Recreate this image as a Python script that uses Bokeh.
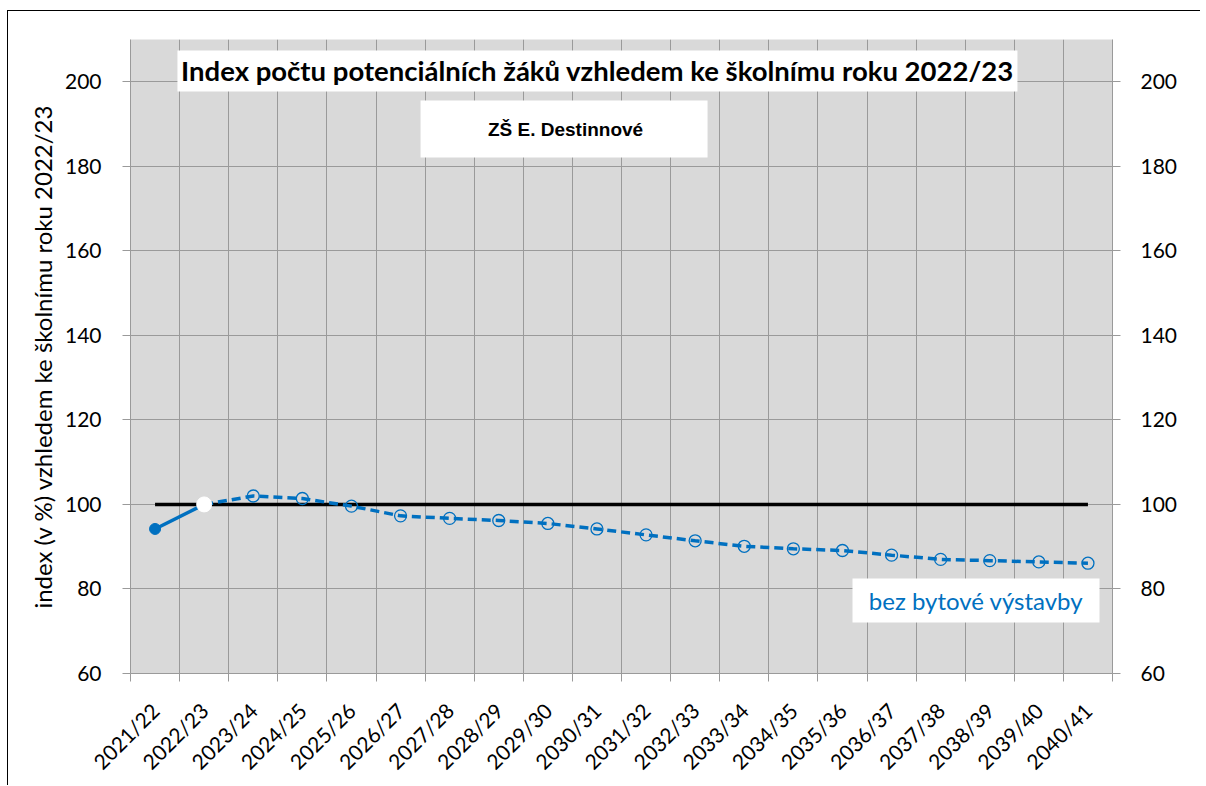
from math import pi
from bokeh.plotting import figure
from bokeh.models import FixedTicker, LinearAxis, Range1d
from bokeh.core.properties import value
from bokeh.embed import file_html
from bokeh.resources import INLINE

categories = ["2021/22", "2022/23", "2023/24", "2024/25", "2025/26", "2026/27", "2027/28",
              "2028/29", "2029/30", "2030/31", "2031/32", "2032/33", "2033/34", "2034/35",
              "2035/36", "2036/37", "2037/38", "2038/39", "2039/40", "2040/41"]
index_values = [94.2, 100.0, 102.0, 101.4, 99.6, 97.3, 96.7, 96.2, 95.5, 94.2,
                92.8, 91.4, 90.1, 89.5, 89.1, 88.0, 87.0, 86.7, 86.4, 86.1]
reference_values = [100, 100, 100, 100, 100, 100, 100, 100, 100, 100,
                     100, 100, 100, 100, 100, 100, 100, 100, 100, 100]
y_ticks = [60, 80, 100, 120, 140, 160, 180, 200]

title_text = "Index počtu potenciálních žáků vzhledem ke školnímu roku 2022/23"
subtitle_text = "ZŠ E. Destinnové"
series_label = "bez bytové výstavby"
y_label = "index (v %) vzhledem ke školnímu roku 2022/23"

BLUE = "#0070C0"
GRID = "#9a9a9a"
FONT = "Lato"

n = len(categories)
xc = [i + 0.5 for i in range(n)]
bounds = list(range(n + 1))

p = figure(frame_width=982, frame_height=634,
           x_range=Range1d(0, n), y_range=Range1d(60, 210),
           output_backend="svg", toolbar_location=None,
           min_border_left=122, min_border_right=88, min_border_top=28, min_border_bottom=110,
           background_fill_color="#d9d9d9", border_fill_color="white",
           outline_line_color=None)
p.styles = {"border-left": "1px solid black", "border-top": "1px solid black",
            "margin-left": "7px", "margin-top": "10px"}

# x axis
xa = p.xaxis[0]
xa.ticker = FixedTicker(ticks=xc, minor_ticks=bounds)
xa.major_label_overrides = {x: c for x, c in zip(xc, categories)}
xa.major_tick_line_color = None
xa.major_tick_out = 8
xa.major_tick_in = 0
xa.minor_tick_line_color = GRID
xa.minor_tick_out = 8
xa.minor_tick_in = 0
xa.axis_line_color = GRID
xa.major_label_orientation = pi / 4
xa.major_label_text_font = FONT
xa.major_label_text_font_size = "21px"
xa.major_label_text_color = "black"
xa.major_label_standoff = 25

# y axes
def style_y(ax, standoff):
    ax.ticker = FixedTicker(ticks=y_ticks)
    ax.minor_tick_line_color = None
    ax.major_tick_line_color = GRID
    ax.major_tick_out = 8
    ax.major_tick_in = 0
    ax.axis_line_color = GRID
    ax.major_label_text_font = FONT
    ax.major_label_text_font_size = "21px"
    ax.major_label_text_color = "black"
    ax.major_label_standoff = standoff

ya = p.yaxis[0]
style_y(ya, 21)
ya.axis_label = y_label
ya.axis_label_text_font = FONT
ya.axis_label_text_font_size = "24px"
ya.axis_label_text_font_style = "normal"
ya.axis_label_text_color = "black"
ya.axis_label_standoff = 5

yr = LinearAxis()
style_y(yr, 20)
p.add_layout(yr, "right")

p.xgrid.ticker = FixedTicker(ticks=bounds)
p.ygrid.ticker = FixedTicker(ticks=y_ticks)
for g in (p.xgrid[0], p.ygrid[0]):
    g.grid_line_color = GRID
    g.grid_line_width = 1

# reference line at 100
p.line(xc, reference_values, line_color="black", line_width=3.5)

# projection (dashed) from 2022/23 on
p.line(xc[1:], index_values[1:], line_color=BLUE, line_width=3.5, line_dash="9 5")
p.scatter(xc[2:], index_values[2:], size=12, marker="circle",
          fill_color=None, line_color=BLUE, line_width=1.3)

# actual (solid)
p.line(xc[:2], index_values[:2], line_color=BLUE, line_width=3.5)
p.scatter(xc[:1], index_values[:1], size=11, marker="circle",
          fill_color=BLUE, line_color=BLUE)
p.scatter(xc[1:2], index_values[1:2], size=15, marker="circle",
          fill_color="white", line_color="white")

# title boxes
p.rect(x=[9.51], y=[202.55], width=840, height=41, width_units="screen", height_units="screen",
       fill_color="white", line_color=None)
p.text(x=[9.51], y=[202.55], text=[title_text], text_align="center", text_baseline="middle",
       text_font=value(FONT), text_font_style="bold", text_font_size="27.5px", text_color="black")

p.rect(x=[8.83], y=[188.8], width=287, height=57, width_units="screen", height_units="screen",
       fill_color="white", line_color=None)
p.text(x=[8.86], y=[188.8], text=[subtitle_text], text_align="center", text_baseline="middle",
       text_font=value("Liberation Sans"), text_font_style="bold", text_font_size="19px",
       text_color="black")

p.rect(x=[17.22], y=[77.3], width=247, height=44, width_units="screen", height_units="screen",
       fill_color="white", line_color=None)
p.text(x=[17.22], y=[77.3], text=[series_label], text_align="center", text_baseline="middle",
       text_font=value(FONT), text_font_size="24px", text_color=BLUE)

open("out.html", "w").write(file_html(p, INLINE))
